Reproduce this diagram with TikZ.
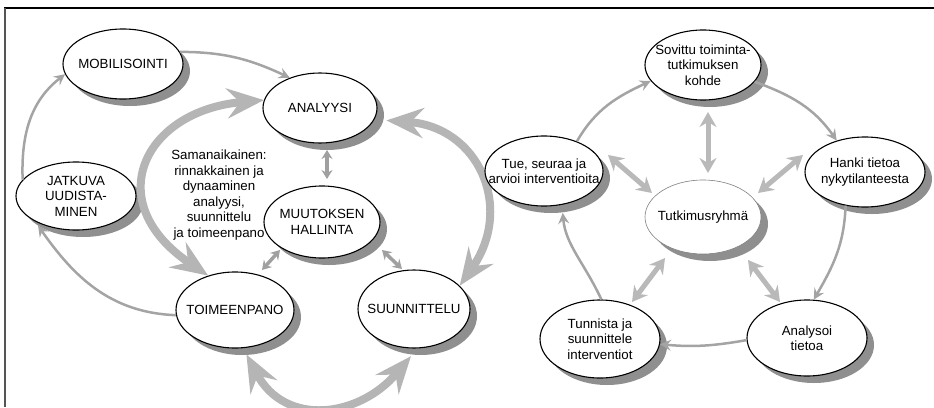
\documentclass[tikz,border=0pt]{standalone}
\usepackage{fontspec}
\setmainfont{Liberation Sans}
\usetikzlibrary{shapes.geometric,arrows.meta,shadows}

\definecolor{shade}{HTML}{8F8F8F}
\definecolor{thingray}{HTML}{A4A4A4}
\definecolor{biggray}{HTML}{B5B5B5}
\definecolor{pairgray}{HTML}{A0A0A0}
\definecolor{radgray}{HTML}{B9B9B9}
\definecolor{framegray}{HTML}{555555}

\tikzset{
  phase/.style={ellipse, draw=black, line width=1.1pt, fill=white, inner sep=0pt,
    drop shadow={shadow xshift=7pt, shadow yshift=-7pt, fill=shade, opacity=1}},
  hub/.style={phase, draw=gray, line width=0.6pt},
  lbl/.style={font=\fontsize{13.3}{15.5}\selectfont, align=center, inner sep=0pt},
  flow/.style={draw=thingray, line width=2.5pt,
    -{Stealth[length=11pt,width=11pt,inset=4pt]}},
  bigloop/.style={draw=biggray, line width=8pt,
    {Stealth[length=37pt,width=30pt,inset=13pt]}-{Stealth[length=37pt,width=30pt,inset=13pt]}},
  pair/.style={draw=pairgray, line width=3.5pt,
    {Stealth[length=9pt,width=11pt,inset=3pt]}-{Stealth[length=9pt,width=11pt,inset=3pt]}},
  radial/.style={draw=radgray, line width=5pt,
    {Stealth[length=15pt,width=17pt,inset=5pt]}-{Stealth[length=15pt,width=17pt,inset=5pt]}},
}

\begin{document}
\begin{tikzpicture}[x=1pt,y=1pt]
\useasboundingbox (0,-407) rectangle (934,0);

% frame lines
\draw[line width=1.5pt] (4,-8) -- (934,-8);
\draw[line width=2pt, draw=framegray] (5,-8) -- (5,-407);

% ---------- change-management cycle ----------
\node[phase, minimum width=120pt, minimum height=70pt] (mob) at (123,-64) {};
\node[lbl] (mob-t) at (mob) {MOBILISOINTI};
\node[phase, minimum width=114pt, minimum height=70pt] (ana) at (320,-108) {};
\node[lbl] (ana-t) at (ana) {ANALYYSI};
\node[phase, minimum width=120pt, minimum height=68pt] (jat) at (76,-196) {};
\node[lbl] (jat-t) at (jat) {JATKUVA\\UUDISTA-\\MINEN};
\node[phase, minimum width=116pt, minimum height=72pt] (muu) at (322,-222) {};
\node[lbl] (muu-t) at (muu) {MUUTOKSEN\\HALLINTA};
\node[phase, minimum width=118pt, minimum height=76pt] (toi) at (235,-310) {};
\node[lbl] (toi-t) at (toi) {TOIMEENPANO};
\node[phase, minimum width=112pt, minimum height=78pt] (suu) at (414,-309) {};
\node[lbl] (suu-t) at (suu) {SUUNNITTELU};

\node[lbl] (note) at (219,-195) {Samanaikainen:\\rinnakkainen ja\\dynaaminen\\analyysi,\\suunnittelu\\ja toimeenpano};

% thin cycle arrows
\draw[flow] (mob.12) to[out=0, in=155] (ana.135);
\draw[flow] (jat.163) to[out=92, in=218] (mob.190);
\draw[flow, shorten >=5pt] (toi.185) to[out=178, in=-55] (jat.212);

% wide two-way arcs
\draw[bigloop] (toi.128) .. controls +(146:132) and +(185:120) .. (ana.172);
\draw[bigloop, shorten <=12pt] (ana.-12) .. controls +(-4:105) and +(55:95) .. (suu.27);
\draw[bigloop, shorten <=7pt, shorten >=10pt] (toi.-78) .. controls +(-62:90) and +(230:90) .. (suu.-85);

% short two-way links around change management
\draw[pair] ([shift={(7,-42)}]ana.center) -- ([shift={(5,43)}]muu.center);
\draw[pair] ([shift={(-42,-28)}]muu.center) -- ([shift={(27,40)}]toi.center);
\draw[pair] ([shift={(60,-28)}]muu.center) -- ([shift={(-12,40)}]suu.center);

% ---------- research group cycle ----------
\node[phase, minimum width=116pt, minimum height=70pt] (sov) at (703,-65) {};
\node[lbl] (sov-t) at (sov) {Sovittu toiminta-\\tutkimuksen\\kohde};
\node[phase, minimum width=120pt, minimum height=70pt] (han) at (865,-172) {};
\node[lbl] (han-t) at (han) {Hanki tietoa\\nykytilanteesta};
\node[phase, minimum width=118pt, minimum height=70pt] (tue) at (544,-171) {};
\node[lbl] (tue-t) at (tue) {Tue, seuraa ja\\arvioi interventioita};
\node[hub, minimum width=116pt, minimum height=74pt] (tut) at (703,-217) {};
\node[lbl] (tut-t) at (tut) {Tutkimusryhmä};
\node[phase, minimum width=120pt, minimum height=78pt] (tun) at (600,-339) {};
\node[lbl] (tun-t) at (tun) {Tunnista ja\\suunnittele\\interventiot};
\node[phase, minimum width=120pt, minimum height=76pt] (anl) at (807,-338) {};
\node[lbl] (anl-t) at (anl) {Analysoi\\tietoa};

% thin cycle arrows
\draw[flow] (sov.-18) to[out=-20, in=125] (han.132);
\draw[flow] (han.-120) to[out=-92, in=60] (anl.80);
\draw[flow] (anl.182) to[out=190, in=-5] (tun.-5);
\draw[flow, shorten >=8pt] (tun.88) to[out=115, in=-85] (tue.-62);
\draw[flow] (tue.42) to[out=60, in=205] (sov.197);

% two-way links to the research group
\draw[radial] ([shift={(5,-47)}]sov.center) -- ([shift={(5,44)}]tut.center);
\draw[radial] ([shift={(64,16)}]tue.center) -- ([shift={(-51,24)}]tut.center);
\draw[radial] ([shift={(-62,17)}]han.center) -- ([shift={(55,24)}]tut.center);
\draw[radial] ([shift={(-38,-41)}]tut.center) -- ([shift={(32,37)}]tun.center);
\draw[radial] ([shift={(45,-43)}]tut.center) -- ([shift={(-27,36)}]anl.center);
\end{tikzpicture}
\end{document}
